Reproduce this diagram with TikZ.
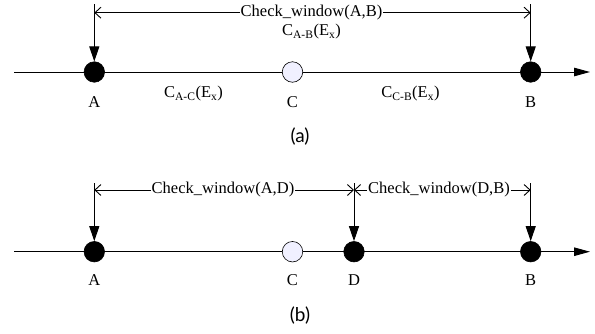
\documentclass[tikz,border=0pt]{standalone}
\usepackage{fontspec}
\setmainfont{Liberation Serif}
\newfontfamily\capfont{Lato}
\usetikzlibrary{arrows.meta}
\begin{document}
\begin{tikzpicture}[x=1pt,y=-1pt,
  txt/.style={font=\fontsize{16.5}{19}\selectfont, inner sep=1pt},
  lbl/.style={txt, fill=white},
  captxt/.style={font=\capfont\fontsize{19}{22}\selectfont, inner sep=0pt},
  blackdot/.style={circle, fill=black, draw=black, line width=0.6pt, minimum size=20.5pt, inner sep=0pt},
  whitedot/.style={circle, fill=blue!6, draw=black, line width=0.6pt, minimum size=20.5pt, inner sep=0pt},
  axis/.style={line width=1pt, -{Triangle[length=16pt,width=8.5pt]}},
  down/.style={line width=1pt, -{Triangle[length=15pt,width=10pt]}},
  win/.style={line width=0.9pt, {Straight Barb[length=6pt,width=11pt]}-{Straight Barb[length=6pt,width=11pt]}}]
\useasboundingbox (0,0) rectangle (595,333);

% ---------- (a) ----------
\coordinate (sa) at (14,72);
\coordinate (ea) at (590,72);
\draw[axis] (sa) -- (ea);
\node[blackdot] (A1) at (94.3,72) {};
\node[whitedot] (C1) at (292.5,72) {};
\node[blackdot] (B1) at (530.7,72) {};
\coordinate (A1t) at (94.3,4);
\coordinate (B1t) at (530.7,4);
\coordinate (A1w) at (94.3,12.7);
\coordinate (B1w) at (530.7,12.7);
\draw[down] (A1t) -- (A1.north);
\draw[down] (B1t) -- (B1.north);
\draw[win] (A1w) -- (B1w);
\node[lbl] (w1) at (311.5,13) {Check\_window(A,B)};
\node[txt] (cab) at (311.5,31.5) {C\textsubscript{A-B}(E\textsubscript{x})};
\node[txt] (cac) at (193.5,94) {C\textsubscript{A-C}(E\textsubscript{x})};
\node[txt] (ccb) at (410.5,94) {C\textsubscript{C-B}(E\textsubscript{x})};
\node[txt] (la1) at (94.3,102) {A};
\node[txt] (lc1) at (292.5,102) {C};
\node[txt] (lb1) at (530.7,102) {B};
\node[captxt] (capa) at (300,137) {(a)};

% ---------- (b) ----------
\coordinate (sb) at (14,251.7);
\coordinate (eb) at (590,251.7);
\draw[axis] (sb) -- (eb);
\node[blackdot] (A2) at (94.3,251.7) {};
\node[whitedot] (C2) at (292.5,251.7) {};
\node[blackdot] (D2) at (354,251.7) {};
\node[blackdot] (B2) at (530.7,251.7) {};
\coordinate (A2t) at (94.3,183);
\coordinate (D2t) at (354,183);
\coordinate (B2t) at (530.7,183);
\coordinate (A2w) at (94.3,190);
\coordinate (D2w) at (354,190);
\coordinate (B2w) at (530.7,190);
\draw[down] (A2t) -- (A2.north);
\draw[down] (D2t) -- (D2.north);
\draw[down] (B2t) -- (B2.north);
\draw[win] (A2w) -- (D2w);
\draw[win] (D2w) -- (B2w);
\node[lbl] (w2) at (223,190) {Check\_window(A,D)};
\node[lbl] (w3) at (439,190) {Check\_window(D,B)};
\node[txt] (la2) at (94.3,280) {A};
\node[txt] (lc2) at (292.5,280) {C};
\node[txt] (ld2) at (354,280) {D};
\node[txt] (lb2) at (530.7,280) {B};
\node[captxt] (capb) at (300,316) {(b)};
\end{tikzpicture}
\end{document}
